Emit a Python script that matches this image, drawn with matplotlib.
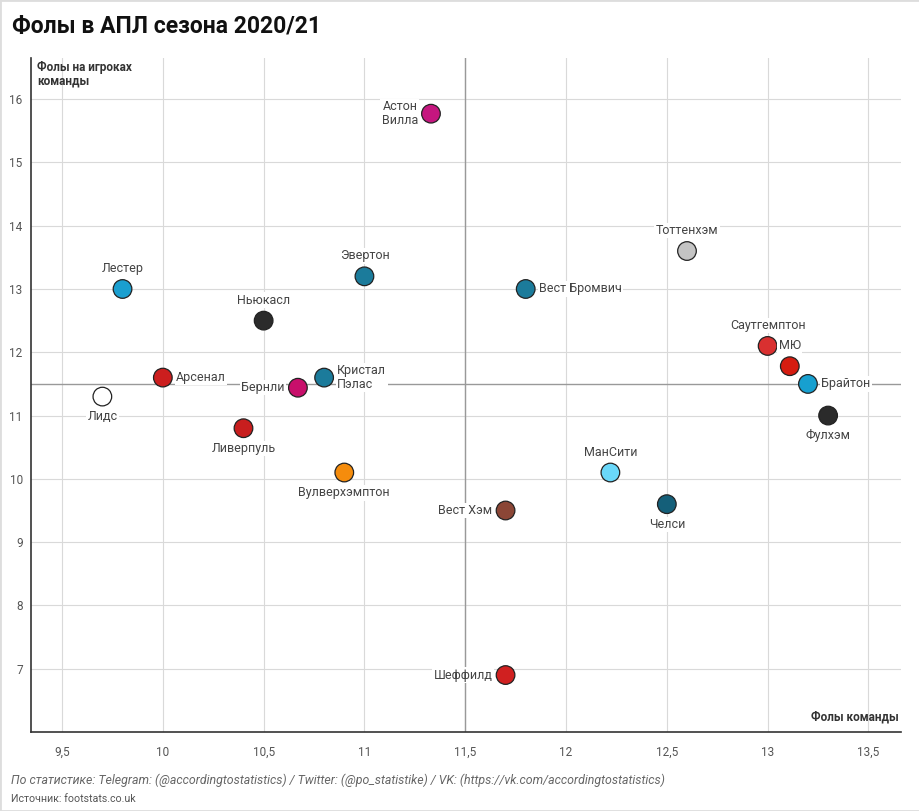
import matplotlib.pyplot as plt
from matplotlib.patches import Rectangle
from matplotlib.ticker import FuncFormatter

plt.rcParams['font.family'] = ['Roboto', 'DejaVu Sans']

# data
teams = ["Астон\nВилла", "Тоттенхэм", "Лестер", "Эвертон", "Вест Бромвич", "Ньюкасл",
         "Саутгемптон", "МЮ", "Брайтон", "Фулхэм", "Арсенал", "Лидс", "Бернли",
         "Кристал\nПэлас", "Ливерпуль", "Вулверхэмптон", "МанСити", "Челси",
         "Вест Хэм", "Шеффилд"]
team_fouls = [11.33, 12.6, 9.8, 11.0, 11.8, 10.5, 13.0, 13.11, 13.2, 13.3,
              10.0, 9.7, 10.67, 10.8, 10.4, 10.9, 12.22, 12.5, 11.7, 11.7]
fouls_on = [15.77, 13.6, 13.0, 13.2, 13.0, 12.5, 12.1, 11.78, 11.5, 11.0,
            11.6, 11.3, 11.44, 11.6, 10.8, 10.1, 10.1, 9.6, 9.5, 6.9]
colors = ["#c5167f", "#c4c4c4", "#1a9fd0", "#1b7b9b", "#1b7b9b", "#2b2b2b",
          "#d93030", "#d51c10", "#17a0d0", "#2b2b2b", "#cc1e1e", "#ffffff",
          "#c80f6b", "#1b7b9b", "#c81e1e", "#f58c0c", "#6ad8fa", "#145f79",
          "#8b4636", "#d02020"]
avg_x = 11.5
avg_y = 11.5
x_ticks = [9.5, 10, 10.5, 11, 11.5, 12, 12.5, 13, 13.5]
y_ticks = [7, 8, 9, 10, 11, 12, 13, 14, 15, 16]

# label placement: t=top, b=bottom, l=left, r=right
place = ["l", "t", "t", "t", "r", "t", "t", "t", "r", "b",
         "r", "b", "l", "r", "b", "b", "t", "b", "l", "l"]

fig = plt.figure(figsize=(9.2, 8.11), dpi=100)
ax = fig.add_axes([0.0337, 0.0974, 0.9453, 0.8311])

ax.set_xlim(9.346, 13.66)
ax.set_ylim(6.0, 16.65)
ax.set_xticks(x_ticks)
ax.set_yticks(y_ticks)
fmt = FuncFormatter(lambda v, p: ("%g" % v).replace(".", ","))
ax.xaxis.set_major_formatter(fmt)
ax.yaxis.set_major_formatter(fmt)
ax.grid(True, color="#d9d9d9", linewidth=0.8)
ax.set_axisbelow(True)
ax.tick_params(length=0, labelsize=8.5, labelcolor="#555555", pad=10)
ax.tick_params(axis="y", pad=6)
for s in ["top", "right"]:
    ax.spines[s].set_visible(False)
for s in ["left", "bottom"]:
    ax.spines[s].set_color("#333333")
    ax.spines[s].set_linewidth(1.2)

ax.axvline(avg_x, color="#999999", linewidth=1, zorder=1)
ax.axhline(avg_y, color="#999999", linewidth=1, zorder=1)

ax.scatter(team_fouls, fouls_on, s=180, c=colors, edgecolors="#222222",
           linewidths=0.9, zorder=3)

offsets = {"t": (0, 10, "center", "bottom"), "b": (0, -10, "center", "top"),
           "l": (-9.5, 0, "right", "center"), "r": (9.5, 0, "left", "center")}
for name, x, y, p in zip(teams, team_fouls, fouls_on, place):
    dx, dy, ha, va = offsets[p]
    ax.annotate(name, (x, y), xytext=(dx, dy), textcoords="offset points",
                ha=ha, va=va, fontsize=9, color="#444444", zorder=4,
                linespacing=1.1,
                bbox=dict(boxstyle="square,pad=0.1", fc="white", ec="none"))

ax.text(0.007, 0.996, "Фолы на игроках\nкоманды", transform=ax.transAxes,
        ha="left", va="top", fontsize=8.5, fontweight="bold", color="#333333",
        linespacing=1.1)
ax.text(0.998, 0.012, "Фолы команды", transform=ax.transAxes, ha="right",
        va="bottom", fontsize=8.5, fontweight="bold", color="#333333")

fig.text(0.013, 0.968, "Фолы в АПЛ сезона 2020/21", fontsize=16.5,
         fontweight="bold", color="#111111", ha="left", va="center")
fig.text(0.012, 0.038, "По статистике: Telegram: (@accordingtostatistics) / Twitter: "
         "(@po_statistike) / VK: (https://vk.com/accordingtostatistics)",
         fontsize=8.9, style="italic", color="#666666", ha="left", va="center")
fig.text(0.012, 0.015, "Источник: footstats.co.uk", fontsize=7.7,
         color="#555555", ha="left", va="center")

fig.patches.append(Rectangle((0, 0), 1, 1, transform=fig.transFigure,
                             fill=False, edgecolor="#dddddd", linewidth=2))

fig.savefig("out.png", dpi=100)
